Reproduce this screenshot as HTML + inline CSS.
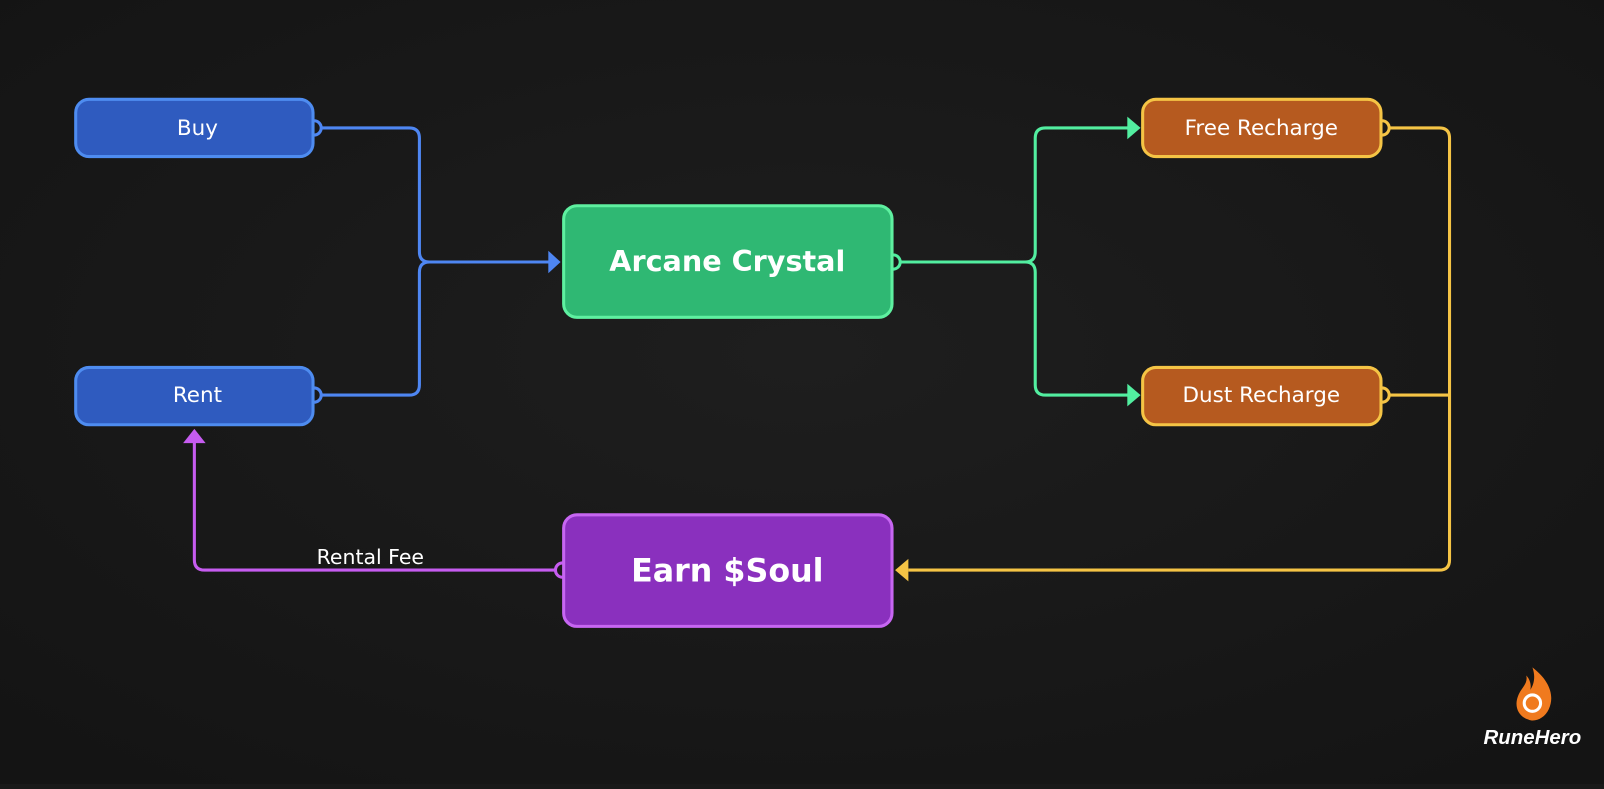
<!DOCTYPE html>
<html><head><style>
html,body{margin:0;padding:0;background:#191919;}
body{width:1604px;height:784px;overflow:hidden;font-family:"Liberation Sans",sans-serif;}
</style></head><body>
<svg width="1604" height="784" viewBox="0 0 1568 766" preserveAspectRatio="none" xmlns="http://www.w3.org/2000/svg">
<defs>
<radialGradient id="bg" cx="50%" cy="45%" r="70%">
<stop offset="0" stop-color="#1e1e1e"/><stop offset="1" stop-color="#141414"/>
</radialGradient>
</defs>
<rect width="1568" height="766" fill="url(#bg)"/>
<g fill="none" stroke-width="3" stroke-linejoin="round">
<path d="M310 125 H400 Q410 125 410 135 V246 Q410 256 420 256 H538" stroke="#4e86f2"/>
<path d="M310 386 H400 Q410 386 410 376 V266 Q410 256 420 256" stroke="#4e86f2"/>
<path d="M876 256 H1002 Q1012 256 1012 246 V135 Q1012 125 1022 125 H1104" stroke="#52eea0"/>
<path d="M1002 256 Q1012 256 1012 266 V376 Q1012 386 1022 386 H1104" stroke="#52eea0"/>
<path d="M1354 125 H1407 Q1417 125 1417 135 V547 Q1417 557 1407 557 H888" stroke="#f5c445"/>
<path d="M1354 386 H1417" stroke="#f5c445"/>
<path d="M547 557 H200 Q190 557 190 547 V432" stroke="#c65cf0"/>
</g>
<g>
<polygon points="536,245 548,256 536,267" fill="#4e86f2"/>
<polygon points="1102,114 1115,125 1102,136" fill="#52eea0"/>
<polygon points="1102,375 1115,386 1102,397" fill="#52eea0"/>
<polygon points="888,546 875,557 888,568" fill="#f5c445"/>
<polygon points="179,433 190,419 201,433" fill="#c65cf0"/>
</g>
<g fill="#191919" stroke-width="3">
<path d="M307 118 A6 6 0 0 1 307 132" stroke="#4e86f2"/>
<path d="M307 379 A6 6 0 0 1 307 393" stroke="#4e86f2"/>
<path d="M873 249 A6 6 0 0 1 873 263" stroke="#52eea0"/>
<path d="M1351 118 A6 6 0 0 1 1351 132" stroke="#f5c445"/>
<path d="M1351 379 A6 6 0 0 1 1351 393" stroke="#f5c445"/>
<path d="M550 550 A6 6 0 0 0 550 564" stroke="#c65cf0"/>
</g>
<g stroke-width="3">
<rect x="74" y="97" width="232" height="56" rx="13" fill="#2f5bbf" stroke="#4e8cf0"/>
<rect x="74" y="359" width="232" height="56" rx="13" fill="#2f5bbf" stroke="#4e8cf0"/>
<rect x="551" y="201" width="321" height="109" rx="13" fill="#2fb873" stroke="#5ef0a0"/>
<rect x="551" y="503" width="321" height="109" rx="13" fill="#8a30be" stroke="#c766f2"/>
<rect x="1117" y="97" width="233" height="56" rx="13" fill="#b65a1f" stroke="#f5c445"/>
<rect x="1117" y="359" width="233" height="56" rx="13" fill="#b65a1f" stroke="#f5c445"/>
</g>
<g fill="#fff" text-anchor="middle" font-family="DejaVu Sans, Liberation Sans, sans-serif">
<text x="193" y="132" font-size="21">Buy</text>
<text x="193" y="393" font-size="21">Rent</text>
<text x="711" y="265" font-size="28" font-weight="bold">Arcane Crystal</text>
<text x="711" y="568" font-size="31" font-weight="bold">Earn $Soul</text>
<text x="1233" y="132" font-size="21">Free Recharge</text>
<text x="1233" y="393" font-size="21">Dust Recharge</text>
<text x="362" y="551" font-size="20">Rental Fee</text>
</g>
<g>
<path d="M1498 652 C1515 665 1520 680 1514 693 C1510 702 1500 706 1494 703 C1484 700 1480 690 1484 680 C1487 672 1494 668 1492 660 C1496 664 1497 670 1496 674 C1500 668 1501 660 1498 652Z" fill="#f07a1e"/>
<circle cx="1498" cy="687" r="8" fill="none" stroke="#fff" stroke-width="3"/>
<text x="1498" y="727" font-size="20" font-weight="bold" font-style="italic" fill="#fff" text-anchor="middle" font-family="Liberation Sans, sans-serif">RuneHero</text>
</g>
</svg>
</body></html>
